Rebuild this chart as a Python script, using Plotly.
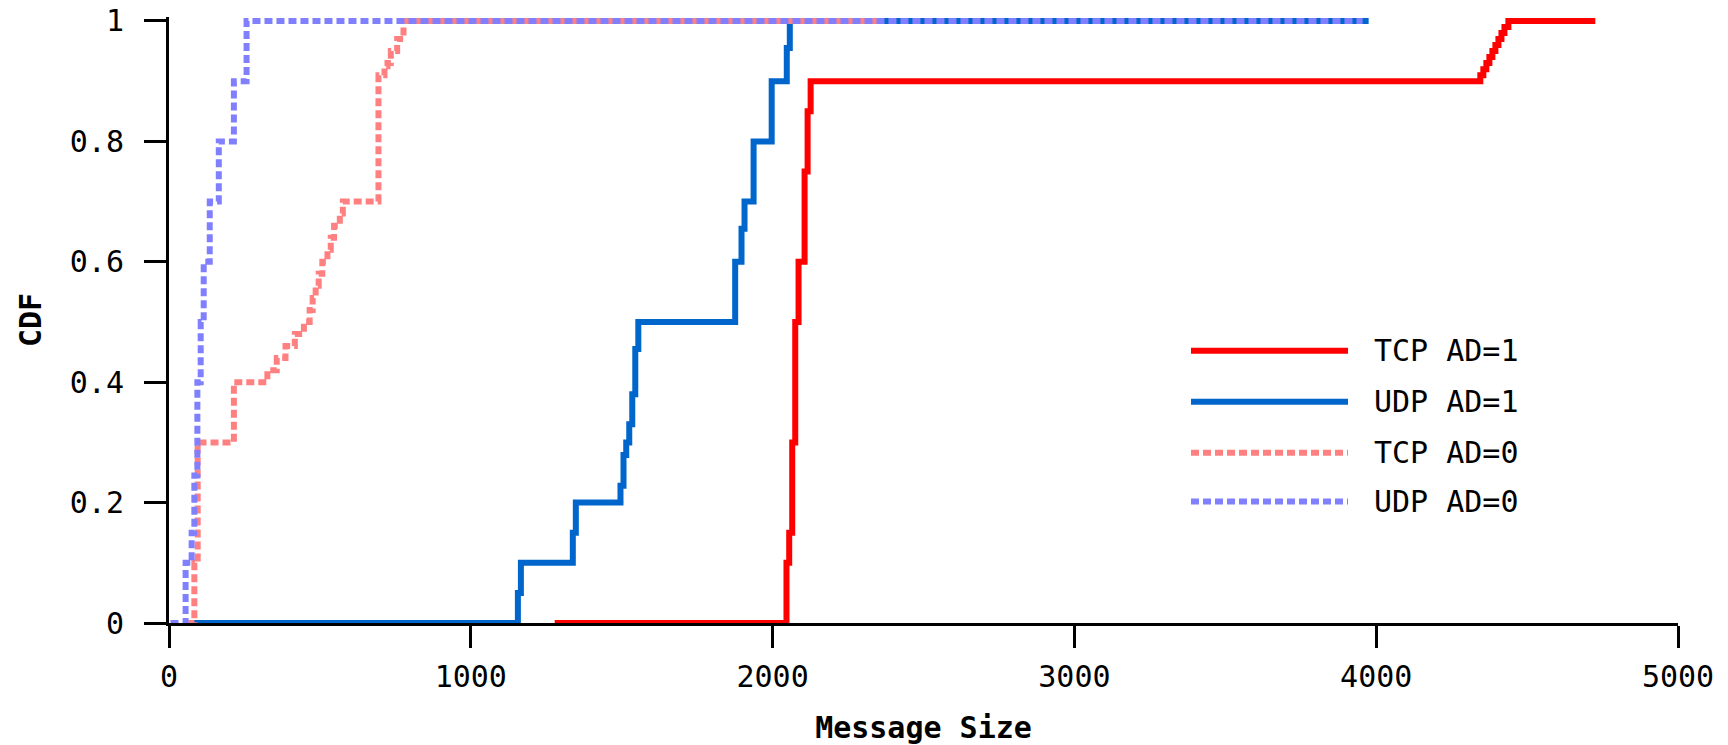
import plotly.graph_objects as go

# ---- data ----
tcp_ad1_x = [1278, 2046, 2055, 2065, 2075, 2086, 2106, 2116, 2126,
             4345, 4355, 4365, 4375, 4385, 4395, 4405, 4415, 4425, 4438, 4726]
tcp_ad1_y = [0, 0.1, 0.15, 0.3, 0.5, 0.6, 0.75, 0.85, 0.9,
             0.91, 0.92, 0.93, 0.94, 0.95, 0.96, 0.97, 0.98, 0.99, 1.0, 1.0]

udp_ad1_x = [60, 1156, 1166, 1338, 1348, 1496, 1506, 1515, 1525, 1535, 1545, 1555,
             1876, 1897, 1907, 1937, 1997, 2047, 2057, 3975]
udp_ad1_y = [0, 0.05, 0.1, 0.15, 0.2, 0.228, 0.279, 0.3, 0.33, 0.38, 0.455, 0.5,
             0.6, 0.655, 0.7, 0.8, 0.9, 0.955, 1.0, 1.0]

tcp_ad0_x = [60, 84, 95, 215, 326, 357, 386, 417, 447, 466, 476, 486, 496, 508,
             525, 536, 547, 566, 576, 694, 714, 724, 735, 756, 777, 2364]
tcp_ad0_y = [0, 0.1, 0.3, 0.4, 0.42, 0.44, 0.46, 0.48, 0.5, 0.52, 0.54, 0.56, 0.58, 0.6,
             0.62, 0.64, 0.66, 0.68, 0.7, 0.91, 0.925, 0.93, 0.95, 0.97, 1.0, 1.0]

udp_ad0_x = [5, 55, 75, 84, 94, 105, 115, 135, 165, 215, 257, 3955]
udp_ad0_y = [0, 0.1, 0.15, 0.245, 0.4, 0.5, 0.6, 0.7, 0.8, 0.9, 1.0, 1.0]

series_names = ["TCP AD=1", "UDP AD=1", "TCP AD=0", "UDP AD=0"]
series_colors = ["#FF0000", "#0066CC", "#FF8080", "#8080FF"]
series_dash = ["solid", "solid", "8px,4px", "8px,4px"]

x_ticks = [0, 1000, 2000, 3000, 4000, 5000]
x_tick_labels = ["0", "1000", "2000", "3000", "4000", "5000"]
y_ticks = [0, 0.2, 0.4, 0.6, 0.8, 1]
y_tick_labels = ["0", "0.2", "0.4", "0.6", "0.8", "1"]

FONT = "DejaVu Sans Mono"
FS = 30
W, H = 1728, 745
# plot area in page pixels: left 169, right 1678, top 17, bottom 623.5
L = 169
T = 17
R = W - 1678
B = H - 623.5

fig = go.Figure()
all_x = [tcp_ad1_x, udp_ad1_x, tcp_ad0_x, udp_ad0_x]
all_y = [tcp_ad1_y, udp_ad1_y, tcp_ad0_y, udp_ad0_y]
for xs, ys, name, col, dash in zip(all_x, all_y, series_names, series_colors, series_dash):
    fig.add_trace(go.Scatter(
        x=xs, y=ys, name=name, mode="lines", line_shape="hv",
        line=dict(color=col, width=6, dash=dash), showlegend=False,
        hoverinfo="skip"))

# manual legend (long line samples like the reference)
pw = W - L - R
ph = H - T - B


def px_x(p):
    return (p - L) / pw


def px_y(p):
    return (H - B - p) / ph


leg_rows = [351, 402, 453, 502]
for i, (name, col, dash) in enumerate(zip(series_names, series_colors, series_dash)):
    yp = px_y(leg_rows[i])
    fig.add_shape(type="line", xref="paper", yref="paper",
                  x0=px_x(1191), x1=px_x(1348), y0=yp, y1=yp,
                  line=dict(color=col, width=6, dash=dash))
    fig.add_annotation(xref="paper", yref="paper", x=px_x(1372), y=yp,
                       text=name, showarrow=False, xanchor="left", yanchor="middle",
                       font=dict(family=FONT, size=FS, color="black"))

fig.update_layout(
    width=W, height=H, autosize=False,
    margin=dict(l=L, r=R, t=T, b=B, pad=0, autoexpand=False),
    paper_bgcolor="white", plot_bgcolor="white",
    font=dict(family=FONT, size=FS, color="black"),
    showlegend=False, hovermode=False,
)
fig.update_xaxes(
    range=[0, 5000], tickvals=x_ticks, ticktext=x_tick_labels,
    showgrid=False, zeroline=False, showline=True, linecolor="black", linewidth=3,
    ticks="outside", ticklen=22, tickwidth=3, tickcolor="black",
    ticklabelstandoff=3, ticklabeloverflow="allow", layer="above traces", automargin=False,
    title=dict(text="<b>Message Size</b>", standoff=26,
               font=dict(family=FONT, size=FS, color="black")),
)
fig.update_yaxes(
    range=[0, 1.0066], tickvals=y_ticks, ticktext=y_tick_labels,
    showgrid=False, zeroline=False, showline=True, linecolor="black", linewidth=3,
    ticks="outside", ticklen=22, tickwidth=3, tickcolor="black",
    ticklabelstandoff=14, ticklabeloverflow="allow", layer="above traces", automargin=False,
    title=dict(text="<b>CDF</b>", standoff=20,
               font=dict(family=FONT, size=FS, color="black")),
)

fig.write_html(
    "out.html",
    config={"displayModeBar": False, "staticPlot": True},
    post_script="document.body.style.margin='0';document.body.style.overflow='hidden';",
)
